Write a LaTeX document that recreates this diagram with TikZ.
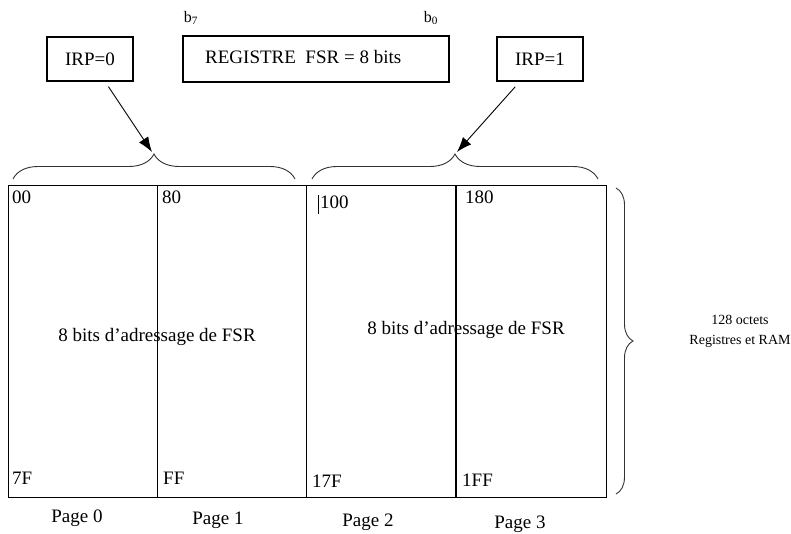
\documentclass[tikz,border=0pt]{standalone}
\usepackage{fontspec}
\setmainfont{Liberation Serif}
\usetikzlibrary{arrows.meta,decorations.pathreplacing}
\begin{document}
\begin{tikzpicture}[x=1pt,y=-1pt,
  txt/.style={font=\fontsize{19}{21}\selectfont, inner sep=0pt},
  small/.style={font=\fontsize{16}{18}\selectfont, inner sep=0pt},
  tagbox/.style={draw, line width=1.2pt, minimum width=86pt, minimum height=44pt,
    inner sep=0pt, font=\fontsize{19}{21}\selectfont},
  pagebox/.style={draw, line width=1.2pt, minimum width=149pt, minimum height=312pt,
    inner sep=0pt, anchor=north west},
  arr/.style={line width=0.9pt, -{Latex[length=15pt,width=11pt]}},
  curly/.style={line width=0.9pt, color=black!80, decorate,
    decoration={brace, amplitude=#1}},
]
\useasboundingbox (0,0) rectangle (791,534);

% register selector boxes
\node[tagbox] (irp0) at (90,59) {IRP=0};
\node[tagbox] (irp1) at (540,59) {IRP=1};
\node[draw, line width=1.2pt, minimum width=266pt, minimum height=46pt,
  inner sep=0pt] (fsr) at (316,59) {};
\node[txt, anchor=west] (fsrtext) at (205,57) {REGISTRE\ \ FSR = 8 bits};
\node[small] (b7) at (191,18) {b\textsubscript{7}};
\node[small] (b0) at (431,18) {b\textsubscript{0}};

% memory pages
\node[pagebox] (p0) at (8,185) {};
\node[pagebox] (p1) at (157,185) {};
\node[pagebox] (p2) at (306,185) {};
\node[pagebox, minimum width=150pt] (p3) at (456,185) {};
\draw[line width=2pt] (p3.north west) -- (p3.south west);

% addresses
\node[txt, anchor=north west] (a00) at (12,191) {00};
\node[txt, anchor=north west] (a80) at (162,191) {80};
\node[txt, anchor=north west] (a100) at (320,196) {100};
\node[txt, anchor=north west] (a180) at (465,191) {180};
\node[txt, anchor=south west] (a7F) at (12,485) {7F};
\node[txt, anchor=south west] (aFF) at (163,485) {FF};
\node[txt, anchor=south west] (a17F) at (312,488) {17F};
\node[txt, anchor=south west] (a1FF) at (462,487) {1FF};
\coordinate (cur0) at (318,195);
\coordinate (cur1) at (318,214);
\draw[line width=0.9pt] (cur0) -- (cur1);

\node[txt] (m0) at (157,337) {8 bits d'adressage de FSR};
\node[txt] (m1) at (466,330) {8 bits d'adressage de FSR};

% page captions
\node[txt] (c0) at (77,518) {Page 0};
\node[txt] (c1) at (218,520) {Page 1};
\node[txt] (c2) at (368,522) {Page 2};
\node[txt] (c3) at (520,524) {Page 3};

% braces
\coordinate (bl0) at (13,179);
\coordinate (bl1) at (295,179);
\coordinate (br0) at (312,179);
\coordinate (br1) at (598,179);
\coordinate (bv0) at (616,188);
\coordinate (bv1) at (616,494);
\draw[curly=25pt] (bl0) -- (bl1);
\draw[curly=25pt] (br0) -- (br1);
\draw[curly=17pt] (bv0) -- (bv1);
\coordinate (t0) at (152,152);
\coordinate (t1) at (457,152);

\node[inner sep=0pt, align=center, font=\fontsize{14}{20}\selectfont] (size)
  at (740,331) {128 octets\\Registres et RAM};

% selection arrows
\draw[arr, shorten <=6pt] (irp0) -- (t0);
\draw[arr, shorten <=7pt] (irp1) -- (t1);
\end{tikzpicture}
\end{document}
